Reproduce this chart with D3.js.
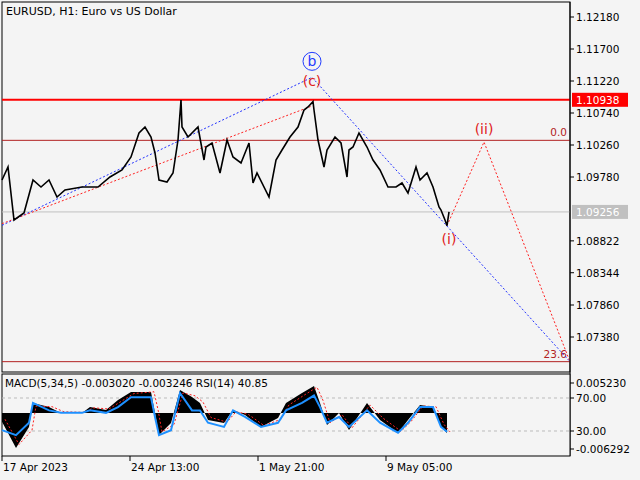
<!DOCTYPE html>
<html><head><meta charset="utf-8">
<script src="https://cdn.jsdelivr.net/npm/d3@7"></script>
<style>body{margin:0;background:#f4f4f4}svg{display:block}text{font-family:"DejaVu Sans",sans-serif;font-size:10.5px}</style>
</head><body><svg id="c" width="640" height="480"></svg>
<script>
// price path: bar index and price
const priceBars = [0,6,12,22,31,39,47,55,63,80,96,108,120,129,137,143,149,153,157,165,171,176,179,180,186,196,202,204,210,218,225,231,239,247,251,255,267,274,280,288,296,302,306,311,312,316,322,325,333,339,345,347,351,357,365,371,378,386,394,400,406,414,418,425,431,437,439,443,445,447];
const prices = [1.09735,1.0993,1.09135,1.0924,1.09735,1.0963,1.09735,1.0948,1.09585,1.0963,1.0963,1.0978,1.09885,1.1008,1.1044,1.1053,1.1038,1.1014,1.09735,1.09705,1.0984,1.10335,1.10935,1.1053,1.1038,1.1053,1.10035,1.1023,1.1029,1.0984,1.10335,1.1008,1.0999,1.1029,1.0969,1.0984,1.0948,1.10035,1.10185,1.1038,1.1053,1.10785,1.1083,1.10910,1.10785,1.10335,1.0993,1.10185,1.1038,1.1029,1.0978,1.10185,1.1023,1.1044,1.1023,1.10035,1.09885,1.0963,1.0963,1.0969,1.0954,1.0993,1.09735,1.0984,1.0963,1.0933,1.09285,1.09135,1.0905,1.09256];
const priceTicks = ["1.12180","1.11700","1.11220","1.10740","1.10260","1.09780","1.08822","1.08344","1.07860","1.07380"];
const resistance = 1.10938, fib0 = 1.1033, fib236 = 1.0701, lastPrice = 1.09256;
const blueWave = [[0,1.09055],[310,1.11275],[568,1.0701]];
const redWave = [[0,1.0908],[310,1.10845]];
const redForecast = [[445,1.0905],[482,1.10305],[568,1.0701]];
const waveLabels = [{t:"b",bar:310,p:1.1144,c:"#1f3bff",circle:true},{t:"(c)",bar:310,p:1.1114,c:"#e02020"},{t:"(ii)",bar:482,p:1.1042,c:"#e02020"},{t:"(i)",bar:447,p:1.0877,c:"#e02020"}];
const oscBars = [0,14,27,31,47,59,80,88,104,116,129,149,153,157,169,178,190,198,206,222,231,243,259,276,284,300,312,318,325,337,347,365,378,396,406,418,431,439,445];
const macd = [-0.00152,-0.00611,-0.00244,0.00175,0.00105,0,0,0.00105,0.00052,0.00227,0.00367,0.00367,0,-0.00384,-0.00175,0.00402,0.00279,0.00175,-0.00122,-0.00175,0.00052,-0.00035,-0.00244,-0.00087,0.00175,0.00349,0.00471,0.00175,-0.0021,0,-0.00297,0.00175,-0.00122,-0.00349,-0.00122,0.0014,0.00105,-0.00244,-0.00349];
const signal = [-0.0011,-0.0055,-0.0030,0.0012,0.0011,0.0002,0.0001,0.0009,0.0007,0.0020,0.0034,0.0037,0.0006,-0.0033,-0.0020,0.0035,0.0030,0.0019,-0.0008,-0.0016,0.0002,-0.0002,-0.0022,-0.0011,0.0014,0.0032,0.0045,0.0022,-0.0017,-0.0003,-0.0026,0.0014,-0.0009,-0.0032,-0.0015,0.0012,0.0011,-0.0020,-0.0033];
const rsi = [31,25,40,64,55,52,52,55,52,59,71,71,47,25,31,76,55,55,40,35,55,47,35,40,55,64,73,59,40,47,35,55,40,28,40,59,59,35,29];
const dateLabels = ["17 Apr 2023","24 Apr 13:00","1 May 21:00","9 May 05:00"];
const dateBars = [0,128,256,384];

const svg = d3.select("#c");
const L=2,R=570,T=2,B=372;
const x = d3.scaleLinear().domain([0,568]).range([L,R]);
const y = d3.scaleLinear().domain([1.1218,1.0738]).range([17,337]);
svg.append("rect").attr("x",L).attr("y",T).attr("width",R-L).attr("height",B-T).attr("fill","#f4f4f4").attr("stroke","#000");
svg.append("text").attr("x",6).attr("y",15).style("font-size","11px").text("EURUSD, H1:  Euro vs US Dollar");
svg.append("line").attr("x1",L).attr("x2",R).attr("y1",y(lastPrice)).attr("y2",y(lastPrice)).attr("stroke","#c0c0c0");
svg.append("line").attr("x1",L).attr("x2",R).attr("y1",y(fib0)).attr("y2",y(fib0)).attr("stroke","#b22222");
svg.append("line").attr("x1",L).attr("x2",R).attr("y1",y(fib236)).attr("y2",y(fib236)).attr("stroke","#b22222");
svg.append("line").attr("x1",L).attr("x2",R).attr("y1",y(resistance)).attr("y2",y(resistance)).attr("stroke","#ff0000").attr("stroke-width",2);
svg.append("text").attr("x",567).attr("y",y(fib0)-4).attr("text-anchor","end").attr("fill","#b22222").text("0.0");
svg.append("text").attr("x",567).attr("y",y(fib236)-4).attr("text-anchor","end").attr("fill","#b22222").text("23.6");
const ln = d3.line().x(d=>x(d[0])).y(d=>y(d[1]));
svg.append("path").attr("d",ln(blueWave)).attr("fill","none").attr("stroke","#2030ff").attr("stroke-dasharray","2,2");
svg.append("path").attr("d",ln(redWave)).attr("fill","none").attr("stroke","#ff2020").attr("stroke-dasharray","2,2");
svg.append("path").attr("d",ln(redForecast)).attr("fill","none").attr("stroke","#ff2020").attr("stroke-dasharray","2,2");
svg.append("path").attr("d",d3.line().x((d,i)=>x(priceBars[i])).y(d=>y(d))(prices)).attr("fill","none").attr("stroke","#000").attr("stroke-width",1.6);
waveLabels.forEach(l=>{
  if(l.circle) svg.append("circle").attr("cx",x(l.bar)).attr("cy",y(l.p)-5).attr("r",9).attr("fill","none").attr("stroke",l.c);
  svg.append("text").attr("x",x(l.bar)).attr("y",y(l.p)).attr("text-anchor","middle").attr("fill",l.c).style("font-size","14px").text(l.t);
});
svg.append("line").attr("x1",R).attr("x2",R).attr("y1",T).attr("y2",456).attr("stroke","#000");
priceTicks.forEach(t=>{const yy=y(+t);
  svg.append("line").attr("x1",R).attr("x2",R+4).attr("y1",yy).attr("y2",yy).attr("stroke","#000");
  svg.append("text").attr("x",R+6).attr("y",yy+4).text(t);});
[[resistance,"#ff0000"],[lastPrice,"#c0c0c0"]].forEach(([p,c])=>{
  svg.append("rect").attr("x",R+2).attr("y",y(p)-7).attr("width",56).attr("height",14).attr("fill",c);
  svg.append("text").attr("x",R+6).attr("y",y(p)+4).attr("fill","#fff").text(p.toFixed(5));});
const oT=374,oB=456;
svg.append("rect").attr("x",L).attr("y",oT).attr("width",R-L).attr("height",oB-oT).attr("fill","#f4f4f4").attr("stroke","#000");
const ym = d3.scaleLinear().domain([-0.006292,0.00523]).range([449,383]);
const yr = d3.scaleLinear().domain([30,70]).range([431,398]);
[70,30].forEach(v=>svg.append("line").attr("x1",L).attr("x2",R).attr("y1",yr(v)).attr("y2",yr(v)).attr("stroke","#bbb").attr("stroke-dasharray","3,3"));
svg.append("path").attr("d",d3.area().x((d,i)=>x(oscBars[i])).y0(ym(0)).y1(d=>ym(d))(macd)).attr("fill","#000");
svg.append("path").attr("d",d3.line().x((d,i)=>x(oscBars[i]+3)).y(d=>ym(d))(signal)).attr("fill","none").attr("stroke","#ff2020").attr("stroke-dasharray","2,2");
svg.append("path").attr("d",d3.line().x((d,i)=>x(oscBars[i])).y(d=>yr(d))(rsi)).attr("fill","none").attr("stroke","#1e90ff").attr("stroke-width",2);
svg.append("text").attr("x",5).attr("y",387).text("MACD(5,34,5) -0.003020 -0.003246 RSI(14) 40.85");
[[ym(0.00523),"0.005230"],[yr(70),"70.00"],[yr(30),"30.00"],[ym(-0.006292),"-0.006292"]].forEach(([yy,t])=>{
  svg.append("line").attr("x1",R).attr("x2",R+4).attr("y1",yy).attr("y2",yy).attr("stroke","#000");
  svg.append("text").attr("x",R+6).attr("y",yy+4).text(t);});
dateBars.forEach((b,i)=>{
  svg.append("line").attr("x1",x(b)).attr("x2",x(b)).attr("y1",oB).attr("y2",oB+5).attr("stroke","#000");
  svg.append("text").attr("x",x(b)+1).attr("y",471).text(dateLabels[i]);});
</script></body></html>
